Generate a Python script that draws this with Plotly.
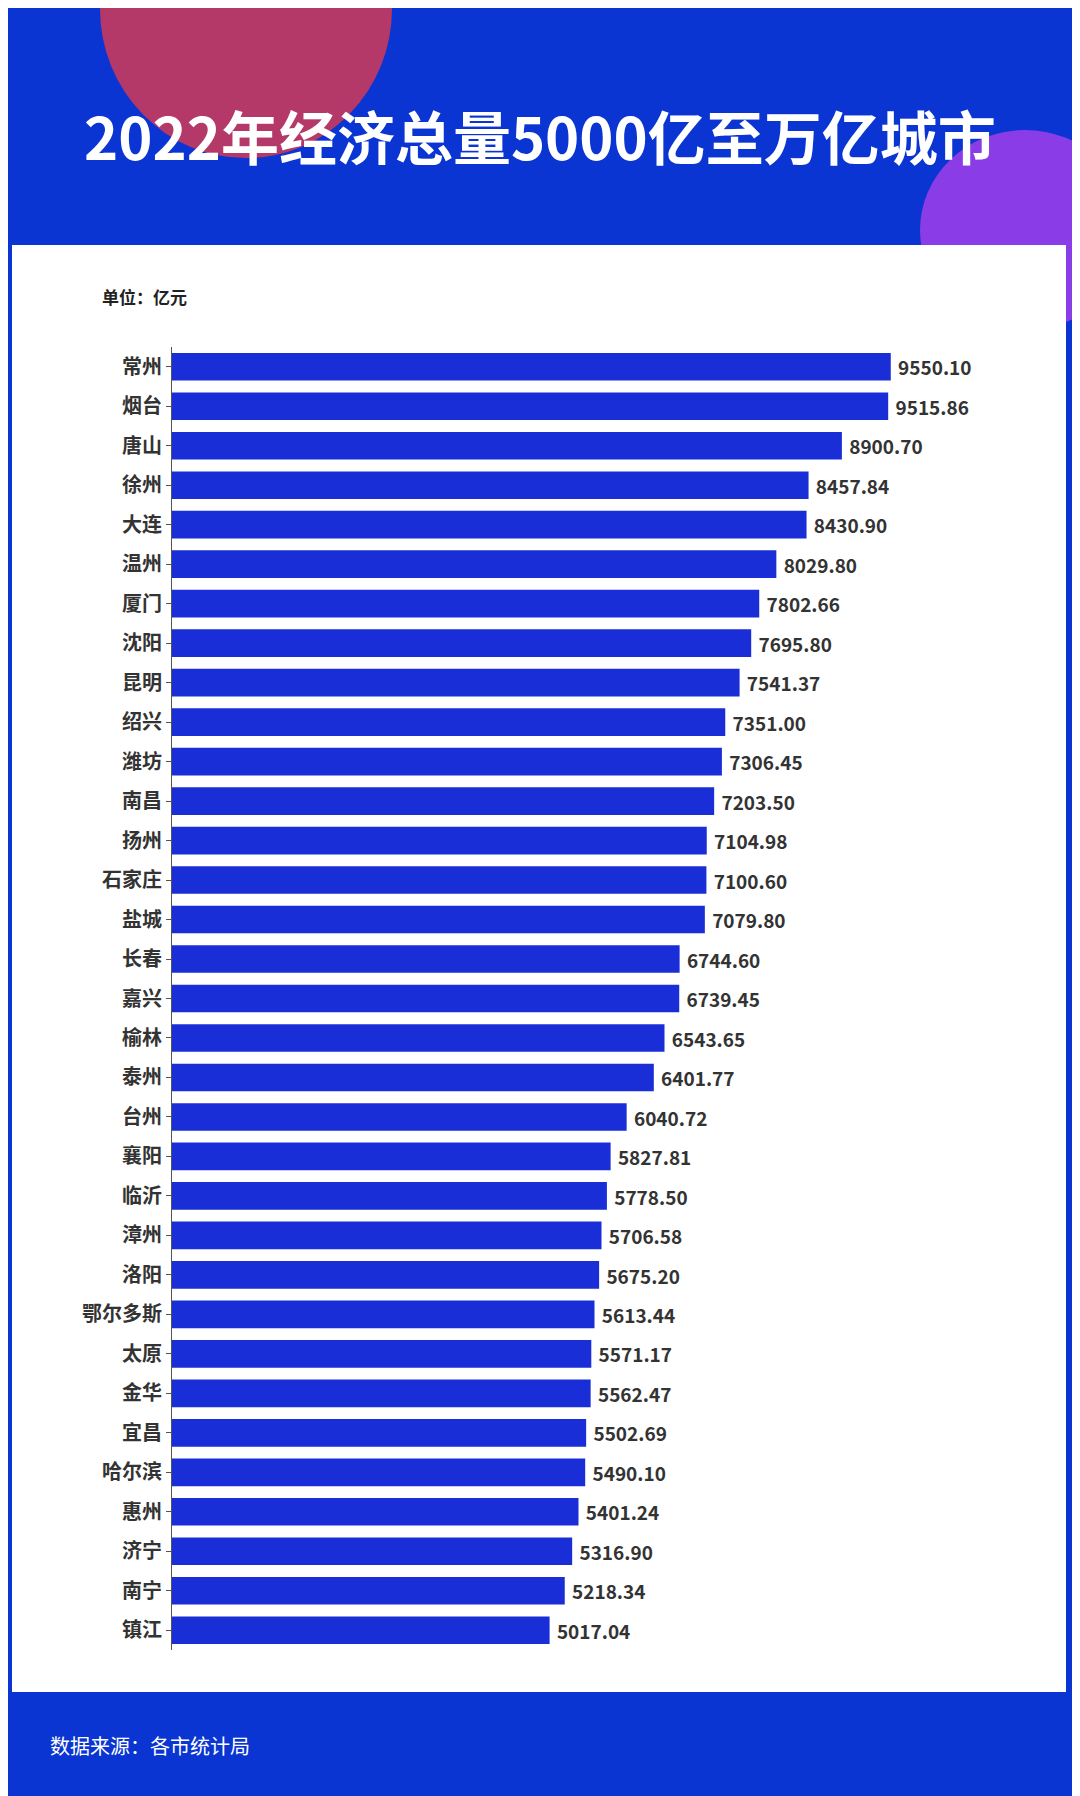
import plotly.graph_objects as go

cities = ["常州","烟台","唐山","徐州","大连","温州","厦门","沈阳","昆明","绍兴","潍坊","南昌","扬州","石家庄","盐城","长春","嘉兴","榆林","泰州","台州","襄阳","临沂","漳州","洛阳","鄂尔多斯","太原","金华","宜昌","哈尔滨","惠州","济宁","南宁","镇江"]
gdp = [9550.10,9515.86,8900.70,8457.84,8430.90,8029.80,7802.66,7695.80,7541.37,7351.00,7306.45,7203.50,7104.98,7100.60,7079.80,6744.60,6739.45,6543.65,6401.77,6040.72,5827.81,5778.50,5706.58,5675.20,5613.44,5571.17,5562.47,5502.69,5490.10,5401.24,5316.90,5218.34,5017.04]
title = "2022年经济总量5000亿至万亿城市"
unit = "单位：亿元"
source = "数据来源：各市统计局"

W, H = 1080, 1796
S = 8  # page offset
L, R, T, B = 172 - S, 1030 - S, 347 - S, 1650 - S

def px(x): return (x - S - L) / (R - L)
def py(y): return (B - (y - S)) / (B - T)

fig = go.Figure(go.Bar(
    x=gdp, y=cities, orientation="h",
    marker=dict(color="#1a2ed8", line=dict(width=0)),
    text=[f" <b>{v:.2f}</b>" for v in gdp], textposition="outside",
    textfont=dict(size=22, color="#333333", family="Noto Sans CJK SC"),
    cliponaxis=False,
))

shapes = [
    dict(type="circle", xref="paper", yref="paper", x0=px(100), x1=px(392), y0=py(158), y1=py(-140),
         fillcolor="#b43868", line=dict(width=0), layer="below"),
    dict(type="circle", xref="paper", yref="paper", x0=px(920), x1=px(1130), y0=py(330), y1=py(130),
         fillcolor="#8a3de6", line=dict(width=0), layer="below"),
    dict(type="rect", xref="paper", yref="paper", x0=px(12), x1=px(1066), y0=py(1692), y1=py(245),
         fillcolor="white", line=dict(width=0), layer="below"),
]

fig.update_layout(
    width=W, height=H,
    margin=dict(l=L, r=W - R, t=T, b=H - B),
    paper_bgcolor="#0a35d2", plot_bgcolor="rgba(0,0,0,0)",
    bargap=0.3, showlegend=False, shapes=shapes,
    font=dict(family="Noto Sans CJK SC"),
    xaxis=dict(range=[0, 11400], visible=False),
    yaxis=dict(autorange="reversed", showline=True, linecolor="#555555", linewidth=1,
               ticks="outside", ticklen=5, tickcolor="#555555",
               tickvals=cities, ticktext=[f"<b>{c}</b>" for c in cities],
               tickfont=dict(size=20, color="#333333", family="Noto Sans CJK SC")),
    annotations=[
        dict(text=f"<b>{title}</b>", xref="paper", yref="paper", x=px(540), y=py(135),
             showarrow=False, font=dict(size=58, color="white"), xanchor="center", yanchor="middle"),
        dict(text=f"<b>{unit}</b>", xref="paper", yref="paper", x=px(100), y=py(296),
             showarrow=False, font=dict(size=17, color="#222222"), xanchor="left", yanchor="middle"),
        dict(text=source, xref="paper", yref="paper", x=px(48), y=py(1745),
             showarrow=False, font=dict(size=20, color="white"), xanchor="left", yanchor="middle"),
    ],
)
fig.write_html("out.html")
